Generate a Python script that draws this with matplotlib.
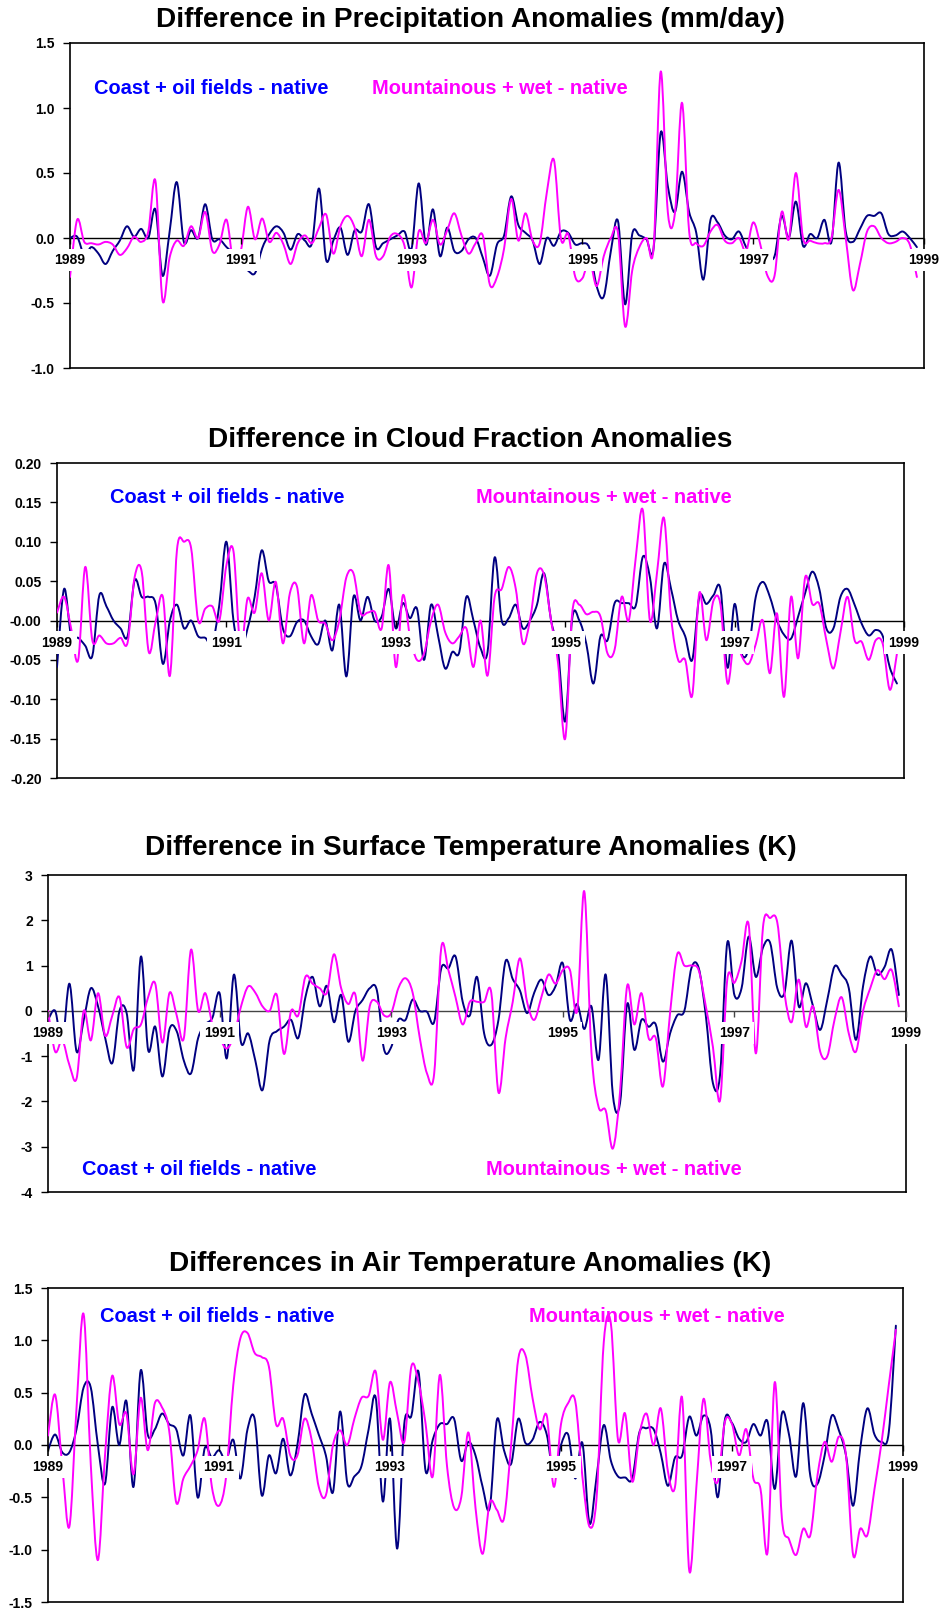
import numpy as np
import matplotlib
matplotlib.use("Agg")
import matplotlib.pyplot as plt
from matplotlib.path import Path
from matplotlib.patches import PathPatch
from matplotlib.markers import TICKDOWN
from matplotlib.transforms import offset_copy

plt.rcParams['font.family'] = ['Liberation Sans', 'DejaVu Sans']
plt.rcParams['font.weight'] = 'bold'

nan = np.nan
# monthly values, Jan 1989 .. Jan 1999
years = 1989 + np.arange(121) / 12.0
year_labels = [1989, 1991, 1993, 1995, 1997, 1999]

precip_coast = [
    0.0, 0.01, -0.13, -0.07, -0.12, -0.2, -0.1, -0.02, 0.09, 0.01,
    0.07, 0.0, 0.22, -0.29, 0.05, 0.43, -0.03, 0.06, 0.0, 0.26,
    -0.01, -0.01, -0.07, -0.12, -0.2, -0.25, -0.27, -0.08, 0.03, 0.09,
    0.04, -0.09, 0.03, -0.02, -0.04, 0.38, -0.17, -0.02, 0.08, -0.13,
    0.06, 0.05, 0.26, -0.07, -0.04, -0.01, 0.02, 0.05, -0.08, 0.42,
    -0.05, 0.22, -0.14, 0.08, -0.1, -0.1, -0.01, 0.0, -0.15, -0.29,
    -0.05, 0.02, 0.32, 0.1, 0.04, -0.02, -0.2, 0.0, -0.06, 0.05,
    0.04, -0.05, -0.04, -0.08, -0.37, -0.45, -0.1, 0.13, -0.51, 0.03,
    0.02, -0.01, -0.08, 0.81, 0.4, 0.2, 0.51, 0.2, 0.04, -0.32,
    0.14, 0.12, 0.02, -0.01, 0.05, -0.07, -0.15, -0.15, -0.15, -0.14,
    0.17, 0.0, 0.28, -0.06, 0.03, 0.0, 0.14, -0.03, 0.58, 0.05,
    -0.03, 0.07, 0.17, 0.17, 0.19, 0.03, 0.02, 0.05, 0.0, -0.07,
    nan]
precip_mount = [
    -0.3, 0.14, -0.03, -0.04, -0.05, -0.03, -0.05, -0.13, -0.08, 0.01,
    -0.03, 0.05, 0.44, -0.48, -0.15, -0.02, -0.06, 0.09, 0.0, 0.2,
    -0.1, -0.05, 0.14, -0.2, -0.1, 0.24, -0.01, 0.15, -0.03, 0.04,
    -0.05, -0.2, -0.04, 0.02, -0.04, 0.08, 0.18, -0.12, 0.09, 0.17,
    0.08, -0.14, 0.14, -0.14, -0.14, 0.01, 0.03, -0.06, -0.38, 0.05,
    -0.04, 0.14, -0.05, 0.06, 0.19, 0.02, -0.12, -0.04, 0.02, -0.36,
    -0.3, -0.08, 0.3, -0.02, 0.19, -0.02, -0.04, 0.35, 0.6, -0.01,
    0.03, -0.3, -0.31, -0.17, -0.37, -0.14, 0.0, 0.04, -0.68, -0.25,
    -0.07, 0.0, -0.08, 1.28, 0.2, 0.19, 1.04, 0.05, -0.04, -0.06,
    0.05, 0.1, -0.02, -0.04, 0.0, -0.1, 0.12, -0.05, -0.29, -0.29,
    0.2, -0.01, 0.5, 0.0, -0.02, -0.04, -0.04, 0.0, 0.37, 0.0,
    -0.4, -0.2, 0.05, 0.09, 0.0, -0.04, -0.03, 0.0, -0.05, -0.3,
    nan]

cloud_coast = [
    -0.059, 0.04, -0.02, -0.022, -0.032, -0.045, 0.032, 0.018, 0.0, -0.01,
    -0.02, 0.051, 0.03, 0.03, 0.02, -0.055, 0.0, 0.02, -0.01, 0.0,
    -0.02, -0.022, -0.029, 0.02, 0.1, 0.0, -0.037, -0.01, 0.03, 0.089,
    0.05, 0.045, -0.01, -0.02, -0.002, 0.0, -0.02, -0.03, 0.0, -0.038,
    0.02, -0.071, 0.03, 0.0, 0.03, 0.0, 0.005, 0.04, -0.01, 0.022,
    0.003, 0.015, -0.05, 0.02, -0.02, -0.061, -0.04, -0.04, 0.03, 0.0,
    -0.035, -0.04, 0.08, 0.0, 0.003, 0.02, -0.01, 0.0, 0.02, 0.06,
    0.0, -0.04, -0.128, 0.003, 0.0, -0.03, -0.08, -0.02, -0.025, 0.022,
    0.022, 0.022, 0.019, 0.081, 0.055, -0.01, 0.072, 0.04, 0.0, -0.02,
    -0.05, 0.03, 0.021, 0.032, 0.04, -0.06, 0.021, -0.042, -0.035, 0.03,
    0.049, 0.03, 0.0, -0.018, -0.023, 0.005, 0.035, 0.062, 0.04, -0.01,
    -0.01, 0.03, 0.04, 0.02, -0.004, -0.019, -0.012, -0.02, -0.06, -0.08,
    nan]
cloud_mount = [
    0.01, 0.03, -0.01, -0.05, 0.068, -0.025, -0.019, -0.029, -0.029, -0.022,
    -0.028, 0.055, 0.062, -0.04, 0.0, 0.03, -0.07, 0.09, 0.1, 0.092,
    0.0, 0.015, 0.018, 0.0, 0.07, 0.088, -0.035, 0.028, 0.01, 0.06,
    0.0, 0.049, -0.029, 0.035, 0.043, -0.029, 0.032, 0.0, -0.004, -0.025,
    0.0, 0.055, 0.06, 0.01, 0.01, 0.011, -0.01, 0.07, -0.059, 0.032,
    -0.02, -0.05, -0.042, 0.0, 0.02, -0.015, -0.029, -0.02, -0.01, -0.059,
    0.0, -0.07, 0.03, 0.04, 0.068, 0.04, -0.029, 0.0, 0.06, 0.058,
    0.0, -0.055, -0.15, 0.01, 0.02, 0.008, 0.011, 0.005, -0.042, -0.037,
    0.03, 0.0, 0.08, 0.14, 0.0, 0.06, 0.13, 0.005, -0.05, -0.05,
    -0.095, 0.035, -0.025, 0.025, 0.02, -0.08, -0.02, -0.045, -0.055, -0.03,
    0.0, -0.067, 0.009, -0.097, 0.03, -0.048, 0.055, 0.021, 0.021, -0.025,
    -0.061, -0.015, 0.03, -0.025, -0.027, -0.05, -0.025, -0.03, -0.088, -0.042,
    nan]

sfc_coast = [
    -0.2, 0.0, -0.7, 0.6, -0.9, -0.2, 0.5, 0.1, -0.6, -1.15,
    0.0, -0.05, -1.3, 1.2, -0.86, -0.35, -1.45, -0.4, -0.45, -1.1,
    -1.38, -0.6, -0.3, -0.15, 0.39, -1.05, 0.8, -0.7, -0.5, -1.1,
    -1.75, -0.65, -0.45, -0.35, -0.2, -0.6, 0.3, 0.75, 0.1, 0.55,
    -0.25, 0.35, -0.68, 0.0, 0.24, 0.5, 0.45, -0.85, -0.8, -0.2,
    -0.2, 0.25, 0.0, -0.02, -0.25, 0.94, 0.94, 1.2, 0.2, -0.1,
    0.75, -0.5, -0.75, -0.2, 1.1, 0.7, 0.45, -0.05, 0.4, 0.69,
    0.35, 0.55, 1.05, -0.2, 0.15, -0.4, 0.1, -1.08, 0.8, -1.85,
    -2.04, 0.15, -0.86, -0.2, -0.35, -0.3, -1.12, -0.5, -0.1, 0.0,
    0.95, 0.95, -0.1, -1.6, -1.4, 1.5, 0.35, 0.5, 1.64, 0.75,
    1.4, 1.5, 0.5, 0.4, 1.55, 0.1, 0.61, 0.1, -0.42, 0.25,
    0.98, 0.8, 0.5, -0.64, 0.55, 1.2, 0.8, 0.97, 1.35, 0.35,
    nan]
sfc_mount = [
    0.0, -0.9, -0.65, -1.2, -1.49, 0.0, -0.65, 0.39, -0.55, -0.1,
    0.3, -0.8, -0.4, -0.3, 0.3, 0.6, -0.7, 0.4, -0.1, -0.6,
    1.35, 0.0, 0.39, -0.3, -0.6, -0.83, -0.55, 0.1, 0.54, 0.4,
    0.1, 0.0, 0.35, -0.95, 0.0, -0.1, 0.75, 0.6, 0.5, 0.4,
    1.25, 0.5, 0.15, 0.35, -1.1, 0.1, 0.2, -0.1, -0.05, 0.5,
    0.72, 0.4, -0.6, -1.38, -1.4, 1.39, 0.9, 0.3, -0.3, 0.2,
    0.2, 0.2, 0.4, -1.8, -0.6, 0.2, 1.16, 0.2, -0.2, 0.3,
    0.8, 0.6, 0.9, 0.9, 0.0, 2.64, -0.9, -2.12, -2.2, -3.04,
    -1.8, 0.55, -0.3, 0.39, -0.6, -0.6, -1.67, -0.05, 1.25, 1.0,
    1.0, 0.9, 0.1, -0.8, -1.97, 0.69, 0.62, 1.1, 1.9, -0.94,
    1.85, 2.05, 1.95, 0.4, -0.25, 0.69, -0.35, 0.1, -0.9, -1.0,
    -0.2, 0.3, -0.5, -0.9, 0.0, 0.5, 0.9, 0.7, 0.9, 0.1,
    nan]

air_coast = [
    -0.05, 0.1, -0.07, -0.07, 0.15, 0.55, 0.55, 0.0, -0.37, 0.36,
    0.0, 0.42, -0.4, 0.71, 0.1, 0.15, 0.3, 0.2, 0.15, -0.1,
    0.28, -0.5, -0.03, -0.12, -0.05, -0.15, 0.05, -0.32, 0.15, 0.25,
    -0.48, -0.1, -0.27, 0.06, -0.29, 0.0, 0.48, 0.3, 0.1, -0.1,
    -0.45, 0.32, -0.36, -0.3, -0.2, 0.15, 0.45, -0.54, 0.25, -0.99,
    0.2, 0.28, 0.7, -0.25, 0.05, 0.2, 0.2, 0.25, -0.15, 0.03,
    -0.1, -0.4, -0.6, 0.24, -0.05, -0.18, 0.25, 0.02, 0.05, 0.22,
    0.1, -0.29, 0.0, 0.1, -0.32, 0.02, -0.75, -0.3, 0.19, -0.15,
    -0.3, -0.31, -0.32, 0.12, 0.16, 0.15, -0.08, -0.39, -0.12, -0.1,
    0.27, 0.09, 0.28, 0.15, -0.5, 0.24, 0.21, 0.06, 0.03, 0.2,
    0.09, 0.22, -0.42, 0.3, 0.1, -0.3, 0.4, -0.3, -0.37, -0.1,
    0.28, 0.14, -0.1, -0.58, -0.03, 0.35, 0.1, 0.03, 0.12, 1.14,
    nan]
air_mount = [
    0.09, 0.48, -0.2, -0.78, 0.35, 1.25, -0.18, -1.1, -0.1, 0.66,
    0.2, 0.3, -0.28, 0.45, -0.05, 0.4, 0.36, 0.14, -0.55, -0.32,
    -0.2, -0.05, 0.25, -0.4, -0.58, -0.3, 0.57, 1.02, 1.07, 0.88,
    0.84, 0.75, 0.2, 0.25, -0.1, -0.1, 0.25, 0.05, -0.4, -0.48,
    0.0, 0.14, 0.0, 0.25, 0.45, 0.47, 0.7, 0.05, 0.6, 0.3,
    0.03, 0.75, 0.6, 0.2, -0.3, 0.67, -0.2, -0.6, -0.5, 0.12,
    -0.6, -1.04, -0.55, -0.62, -0.7, 0.0, 0.82, 0.86, 0.45, 0.15,
    0.28, -0.4, 0.2, 0.4, 0.42, -0.3, -0.78, -0.5, 0.98, 1.16,
    0.05, 0.3, -0.35, 0.1, 0.3, 0.0, 0.35, -0.25, -0.4, 0.45,
    -1.2, -0.4, 0.44, -0.15, -0.35, 0.22, 0.2, -0.1, 0.15, -0.32,
    -0.42, -1.02, 0.6, -0.7, -0.9, -1.05, -0.8, -0.86, -0.29, 0.03,
    -0.16, 0.08, -0.1, -1.05, -0.8, -0.86, -0.42, 0.03, 0.57, 1.1,
    nan]

titles = ["Difference in Precipitation Anomalies (mm/day)",
          "Difference in Cloud Fraction Anomalies",
          "Difference in Surface Temperature Anomalies (K)",
          "Differences in Air Temperature Anomalies (K)"]
coast_label = "Coast + oil fields - native"
mount_label = "Mountainous + wet - native"

NAVY = "#000080"
MAGENTA = "#FF00FF"
BLUE = "#0000FF"

W, H = 941, 1611
fig = plt.figure(figsize=(W / 100, H / 100), dpi=100)


def px_axes(left, right, top, bottom):
    return fig.add_axes([left / W, 1 - bottom / H, (right - left) / W, (bottom - top) / H])


def smooth_line(ax, x, y, color):
    """Excel-style smoothed line: cubic Bezier through the monthly points,
    broken where a value is missing."""
    x = np.asarray(x, float)
    y = np.asarray(y, float)
    ok = np.isfinite(y)
    verts, codes = [], []
    i = 0
    while i < len(y):
        if not ok[i]:
            i += 1
            continue
        j = i
        while j < len(y) and ok[j]:
            j += 1
        pts = np.column_stack([x[i:j], y[i:j]])
        n = len(pts)
        if n > 1:
            verts.append(pts[0]); codes.append(Path.MOVETO)
            for k in range(n - 1):
                p0 = pts[max(k - 1, 0)]
                p1, p2 = pts[k], pts[k + 1]
                p3 = pts[min(k + 2, n - 1)]
                verts += [p1 + (p2 - p0) / 6, p2 - (p3 - p1) / 6, p2]
                codes += [Path.CURVE4] * 3
        i = j
    ax.add_patch(PathPatch(Path(verts, codes), fc="none", ec=color, lw=1.4,
                           zorder=3, capstyle="round", joinstyle="round"))


panels = [
    dict(box=(70, 924, 43, 368), ylim=(-1.0, 1.5), ticks=np.arange(-1.0, 1.51, 0.5), fmt="%.1f",
         data=(precip_coast, precip_mount), ty=27, ly=94.5, cx=94, mx=372, zc="black"),
    dict(box=(57, 904, 463, 778), ylim=(-0.2, 0.2), ticks=np.arange(-0.2, 0.201, 0.05), fmt="%.2f",
         data=(cloud_coast, cloud_mount), ty=447, ly=503, cx=110, mx=476, zc="black"),
    dict(box=(48, 906, 875, 1192), ylim=(-4, 3), ticks=np.arange(-4, 4, 1), fmt="%d",
         data=(sfc_coast, sfc_mount), ty=855, ly=1175, cx=82, mx=486, zc="#444444"),
    dict(box=(48, 903, 1288, 1602), ylim=(-1.5, 1.5), ticks=np.arange(-1.5, 1.51, 0.5), fmt="%.1f",
         data=(air_coast, air_mount), ty=1271, ly=1321.5, cx=100, mx=529, zc="black"),
]

for i, p in enumerate(panels):
    ax = px_axes(*p["box"])
    coast, mount = p["data"]
    smooth_line(ax, years, coast, NAVY)
    smooth_line(ax, years, mount, MAGENTA)
    ax.axhline(0, color=p["zc"], lw=1.0, zorder=2)
    # small category ticks hanging below the zero line
    ax.plot(year_labels, [0] * len(year_labels), ls="none", marker=TICKDOWN,
            ms=4, mew=1, color=p["zc"], zorder=6, clip_on=False)
    ax.set_xlim(1989, 1999)
    ax.set_ylim(*p["ylim"])
    ax.set_xticks([])
    ax.set_yticks(p["ticks"])
    ax.set_yticklabels([p["fmt"] % t for t in p["ticks"]])
    ax.tick_params(axis="y", direction="out", length=5, width=1, pad=6, labelsize=10)
    for s in ax.spines.values():
        s.set_linewidth(1.2)
        s.set_color("black")

    # year labels sit on the zero line with an opaque box, like Excel
    trans = offset_copy(ax.transData, fig=fig, x=0, y=-22, units="dots")
    for yr in year_labels:
        ax.text(yr, 0, str(yr), transform=trans, ha="center", va="center",
                fontsize=10, fontweight="bold", zorder=5, clip_on=False,
                bbox=dict(boxstyle="square,pad=0.3", fc="white", ec="none"))

    fig.text(0.5, 1 - p["ty"] / H, titles[i], ha="center", va="baseline",
             fontsize=20.2, fontweight="bold")
    fig.text(p["cx"] / W, 1 - p["ly"] / H, coast_label, ha="left", va="baseline",
             fontsize=14.4, fontweight="bold", color=BLUE)
    fig.text(p["mx"] / W, 1 - p["ly"] / H, mount_label, ha="left", va="baseline",
             fontsize=14.4, fontweight="bold", color=MAGENTA)

fig.savefig("out.png", dpi=100, facecolor="white")
